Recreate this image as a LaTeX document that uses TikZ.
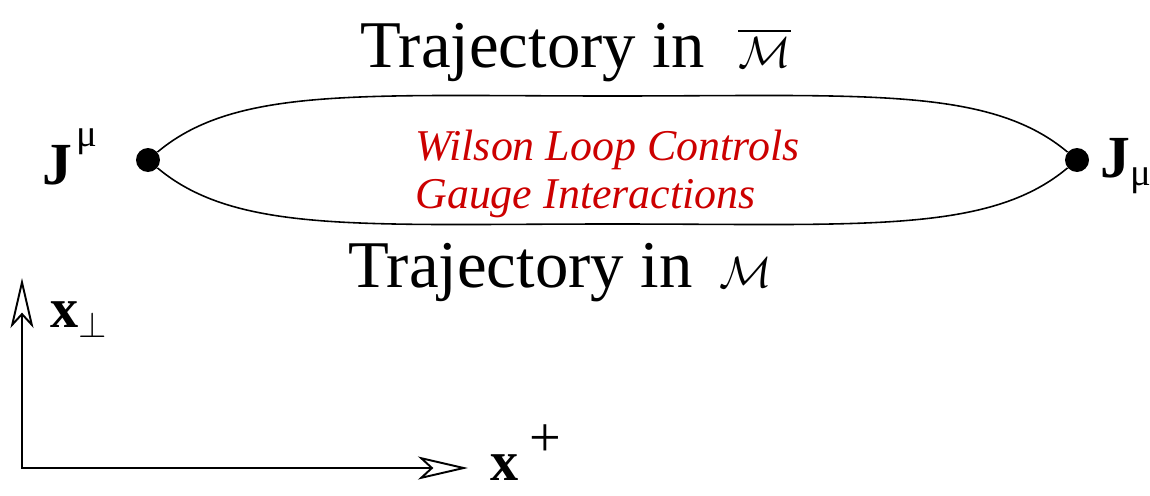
\documentclass[tikz,border=0pt]{standalone}
\usepackage{amsmath}
\usepackage{fontspec}
\setmainfont{Liberation Serif}
\usetikzlibrary{arrows.meta, positioning}
\definecolor{wilsonred}{RGB}{204,0,0}

\begin{document}
\begin{tikzpicture}[
		x=0.02cm, y=0.02cm,
		% End points of the loop
		endpoint/.style={circle, fill=black, inner sep=0pt, minimum size=0.48cm},
		% Loop curves
		loop line/.style={line width=0.9pt},
		% Text styles
		traj label/.style={font=\fontsize{38}{40}\selectfont, anchor=base west, inner sep=0pt},
		current label/.style={font=\fontsize{34}{36}\selectfont\bfseries, anchor=base west, inner sep=0pt},
		wilson text/.style={font=\fontsize{25}{27}\selectfont\itshape, text=wilsonred, anchor=base west, inner sep=0pt},
		% Axes
		axis arrow/.style={{Stealth[open, length=1cm, width=0.46cm, inset=0.25cm]}-{Stealth[open, length=1cm, width=0.46cm, inset=0.25cm]}, line width=1.1pt},
		axis label/.style={font=\fontsize{32}{34}\selectfont\bfseries, anchor=base west, inner sep=0pt}
		]
		
		\useasboundingbox (0,0) rectangle (1150,495);
		
		% --- 1. The loop ---
		\node[endpoint] (J1) at (148,335) {};
		\node[endpoint] (J2) at (1077,335) {};
		\coordinate (top) at (612.5,399);
		\coordinate (bot) at (612.5,271);
		
		\draw[loop line] (J1) .. controls +(40:115) and +(-250,0) .. (top)
			.. controls +(250,0) and +(140:115) .. (J2);
		\draw[loop line] (J1) .. controls +(-40:115) and +(-250,0) .. (bot)
			.. controls +(250,0) and +(-140:115) .. (J2);
		
		% --- 2. Labels ---
		\node[current label] (Jup) at (42,311) {J\hspace{0.08em}\raisebox{0.62em}{\mdseries\fontsize{22}{22}\selectfont μ}};
		\node[current label] (Jdown) at (1100,318) {J\raisebox{-0.15em}{\mdseries\fontsize{22}{22}\selectfont μ}};
		
		\node[traj label] (trajbar) at (360,428) {Trajectory in\hspace{0.5em}{\fontsize{48}{48}\selectfont$\overline{\mathcal{M}}$}};
		\node[traj label] (traj) at (348,208) {Trajectory in\hspace{0.4em}{\fontsize{48}{48}\selectfont$\mathcal{M}$}};
		
		\node[wilson text] (wilson1) at (415,335) {Wilson Loop Controls};
		\node[wilson text] (wilson2) at (415,287) {Gauge Interactions};
		
		% --- 3. Axes ---
		\coordinate (origin) at (22,27);
		\coordinate (xtip) at (468,27);
		\coordinate (ytip) at (22,217);
		\draw[axis arrow] (ytip) -- (origin) -- (xtip);
		
		\node[axis label] (xperp) at (50,168) {x$_\perp$};
		\node[axis label] (xplus) at (490,15) {x\hspace{0.2em}\raisebox{0.42em}{\mdseries\fontsize{32}{32}\selectfont +}};
		
	\end{tikzpicture}
\end{document}
